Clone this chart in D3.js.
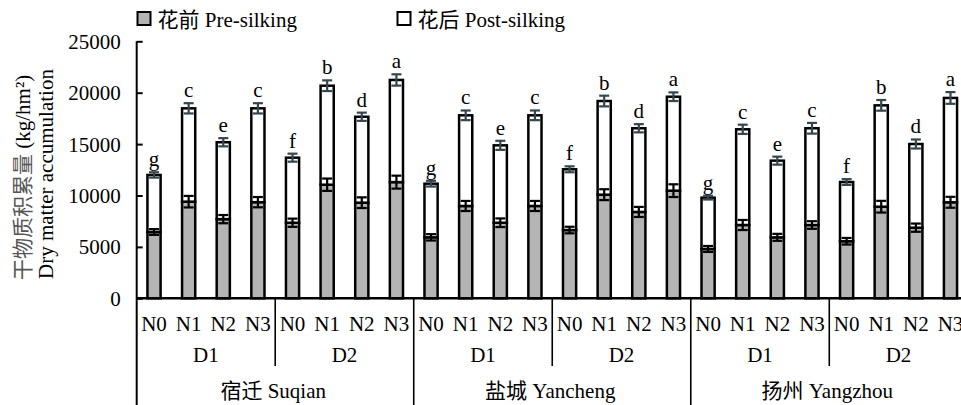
<!DOCTYPE html>
<html>
<head>
<meta charset="utf-8">
<script src="https://cdn.jsdelivr.net/npm/d3@7"></script>
</head>
<body style="margin:0;background:#fff">
<svg id="chart" width="961" height="405"></svg>
<script>
// data
const sites = ["宿迁 Suqian", "盐城 Yancheng", "扬州 Yangzhou"];
const densities = ["D1", "D2"];
const nitrogen = ["N0", "N1", "N2", "N3"];

const preSilking = [
  6450, 9400, 7700, 9350, 7350, 11050, 9300, 11300,
  5930, 8980, 7350, 8980, 6640, 10080, 8400, 10470,
  4800, 7130, 5930, 7130, 5550, 8910, 6870, 9340,
];
const postSilking = [
  5550, 9080, 7480, 9130, 6330, 9630, 8360, 9940,
  5220, 8820, 7530, 8820, 5910, 9110, 8140, 9140,
  4990, 9310, 7460, 9410, 5760, 9860, 8140, 10150,
];
const preError = [
  280, 560, 400, 500, 400, 600, 520, 630,
  310, 490, 420, 490, 320, 530, 490, 620,
  290, 490, 340, 370, 320, 570, 400, 530,
];
const totalError = [
  260, 500, 400, 500, 390, 520, 400, 550,
  280, 470, 440, 470, 290, 520, 400, 420,
  180, 450, 390, 520, 280, 520, 440, 570,
];
const letters = [
  "g", "c", "e", "c", "f", "b", "d", "a",
  "g", "c", "e", "c", "f", "b", "d", "a",
  "g", "c", "e", "c", "f", "b", "d", "a",
];
const yTicks = [0, 5000, 10000, 15000, 20000, 25000];

const FONT = '"Liberation Serif", "Times New Roman", "Noto Sans CJK SC", serif';
const PRE_FILL = "#b4b4b4";
const ERR_TOTAL = "#34474f";

const rows = [];
sites.forEach((s) =>
  densities.forEach((d) =>
    nitrogen.forEach((n) => {
      const i = rows.length;
      rows.push({
        i, site: s, density: d, n,
        pre: preSilking[i], post: postSilking[i],
        preErr: preError[i], totErr: totalError[i], letter: letters[i],
      });
    })
  )
);

const svg = d3.select("#chart").style("font-family", FONT);
const plotLeft = 136.7, plotRight = 967.8, plotTop = 41.3, plotBottom = 298.3;

const x = d3.scaleBand().domain(rows.map(d => d.i)).range([plotLeft, plotRight])
  .paddingInner(0.62).paddingOuter(0.31);
const y = d3.scaleLinear().domain([0, 25000]).range([plotBottom, plotTop]);
const xSite = d3.scaleBand().domain(sites).range([plotLeft, plotRight]);
const xDens = d3.scaleBand().domain(densities).range([0, xSite.bandwidth()]);

const stacked = d3.stack().keys(["pre", "post"])(rows);
const fills = { pre: PRE_FILL, post: "#fff" };

// bars
svg.append("g")
  .selectAll("g")
  .data(stacked)
  .join("g")
  .attr("fill", d => fills[d.key])
  .attr("stroke", "#000")
  .attr("stroke-width", 2.5)
  .selectAll("rect")
  .data(d => d)
  .join("rect")
  .attr("x", d => x(d.data.i))
  .attr("width", x.bandwidth())
  .attr("y", d => y(d[1]))
  .attr("height", d => y(d[0]) - y(d[1]));

// error bars
function errorBars(valueOf, errOf, color) {
  const g = svg.append("g").attr("stroke", color).attr("stroke-width", 2.2);
  const cx = d => x(d.i) + x.bandwidth() / 2;
  g.selectAll("line.v").data(rows).join("line").attr("class", "v")
    .attr("x1", cx).attr("x2", cx)
    .attr("y1", d => y(valueOf(d) + errOf(d)))
    .attr("y2", d => y(valueOf(d) - errOf(d)));
  ["p", "m"].forEach(k => {
    const sgn = k === "p" ? 1 : -1;
    g.selectAll("line.c" + k).data(rows).join("line").attr("class", "c" + k)
      .attr("x1", d => cx(d) - 5).attr("x2", d => cx(d) + 5)
      .attr("y1", d => y(valueOf(d) + sgn * errOf(d)))
      .attr("y2", d => y(valueOf(d) + sgn * errOf(d)));
  });
}
errorBars(d => d.pre, d => d.preErr, "#000");
errorBars(d => d.pre + d.post, d => d.totErr, ERR_TOTAL);

// significance letters
svg.append("g")
  .selectAll("text")
  .data(rows)
  .join("text")
  .attr("x", d => x(d.i) + x.bandwidth() / 2)
  .attr("y", d => y(d.pre + d.post + d.totErr) - 6)
  .attr("text-anchor", "middle")
  .text(d => d.letter);

// y axis
const yAxis = svg.append("g")
  .attr("transform", `translate(${plotLeft},0)`)
  .call(d3.axisLeft(y).tickValues(yTicks).tickSizeInner(-6).tickSizeOuter(0).tickPadding(16).tickFormat(d3.format("d")));
yAxis.select(".domain").remove();
yAxis.attr("font-family", null).attr("font-size", null);
yAxis.selectAll(".tick line").attr("stroke", "#000").attr("stroke-width", 2);
yAxis.selectAll(".tick text").attr("dy", "0.33em");

// axis lines
svg.append("line").attr("x1", plotLeft).attr("x2", plotLeft).attr("y1", plotTop).attr("y2", 405)
  .attr("stroke", "#000").attr("stroke-width", 2);
svg.append("line").attr("x1", plotLeft).attr("x2", 961).attr("y1", plotBottom).attr("y2", plotBottom)
  .attr("stroke", "#000").attr("stroke-width", 2.4);

// hierarchical x labels
svg.append("g")
  .selectAll("text")
  .data(rows)
  .join("text")
  .attr("x", d => x(d.i) + x.bandwidth() / 2)
  .attr("y", 330.5)
  .attr("text-anchor", "middle")
  .text(d => d.n);

const densGroups = sites.flatMap(s => densities.map(d => ({ s, d })));
svg.append("g")
  .selectAll("text")
  .data(densGroups)
  .join("text")
  .attr("x", g => xSite(g.s) + xDens(g.d) + xDens.bandwidth() / 2)
  .attr("y", 361.5)
  .attr("text-anchor", "middle")
  .text(g => g.d);

svg.append("g")
  .attr("stroke", "#000").attr("stroke-width", 1.6)
  .selectAll("line")
  .data(sites.map(s => xSite(s) + xDens("D2")))
  .join("line")
  .attr("x1", d => d).attr("x2", d => d)
  .attr("y1", plotBottom).attr("y2", 366);

svg.append("g")
  .attr("stroke", "#000").attr("stroke-width", 1.6)
  .selectAll("line")
  .data(sites.slice(1).map(s => xSite(s)))
  .join("line")
  .attr("x1", d => d).attr("x2", d => d)
  .attr("y1", plotBottom).attr("y2", 405);

svg.append("g")
  .selectAll("text")
  .data(sites)
  .join("text")
  .attr("x", s => xSite(s) + xSite.bandwidth() / 2 - 2)
  .attr("y", 398)
  .attr("text-anchor", "middle")
  .text(s => s);

// y label
const yl = svg.append("text")
  .attr("transform", "translate(30,280) rotate(-90)")
  .attr("text-anchor", "start");
yl.append("tspan").style("fill", "#555").text("干物质积累量 ");
yl.append("tspan").text("(kg/hm²)");
svg.append("text")
  .attr("transform", "translate(53,279) rotate(-90)")
  .attr("text-anchor", "start")
  .text("Dry matter accumulation");

// legend
const legendItems = [
  { label: "花前 Pre-silking", fill: PRE_FILL, x: 137.5 },
  { label: "花后 Post-silking", fill: "#fff", x: 397.5 },
];
const lg = svg.append("g")
  .selectAll("g")
  .data(legendItems)
  .join("g")
  .attr("transform", d => `translate(${d.x},12)`);
lg.append("rect").attr("width", 13).attr("height", 13)
  .attr("fill", d => d.fill).attr("stroke", "#000").attr("stroke-width", 2);
lg.append("text").attr("x", 20).attr("y", 14.5).text(d => d.label);

svg.selectAll("text")
  .style("font-family", FONT)
  .style("font-size", "21px")
  .attr("fill", "#000");
</script>
</body>
</html>
